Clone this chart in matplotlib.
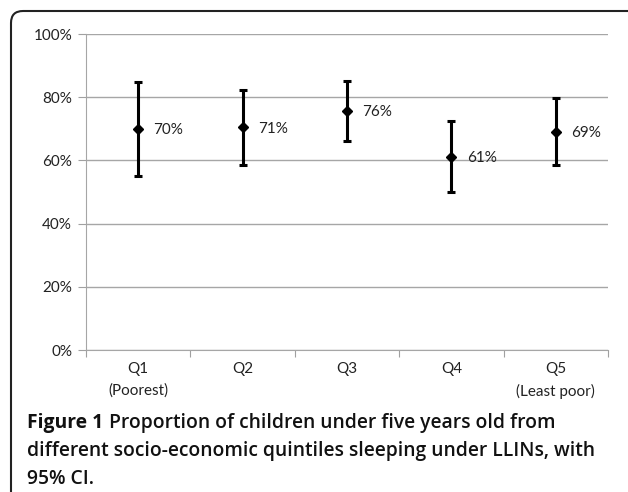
import matplotlib
matplotlib.use("Agg")
import matplotlib.pyplot as plt
from matplotlib.patches import FancyBboxPatch
from matplotlib.transforms import IdentityTransform

# data (proportions)
quintiles = ["Q1\n(Poorest)", "Q2", "Q3", "Q4", "Q5\n(Least poor)"]
estimate = [0.70, 0.705, 0.756, 0.612, 0.69]
ci_low = [0.552, 0.586, 0.661, 0.499, 0.584]
ci_high = [0.849, 0.823, 0.851, 0.725, 0.798]
labels = ["70%", "71%", "76%", "61%", "69%"]
y_ticks = [0, 0.2, 0.4, 0.6, 0.8, 1.0]
y_ticklabels = ["0%", "20%", "40%", "60%", "80%", "100%"]

W, H = 628, 492
fig = plt.figure(figsize=(W / 100, H / 100), dpi=100)
ax = fig.add_axes([86 / W, 1 - 350 / H, (608 - 86) / W, (350 - 34) / H])

lab_font = dict(family="Lato", fontsize=11, color="#222222")

x = list(range(len(quintiles)))
err_lo = [e - l for e, l in zip(estimate, ci_low)]
err_hi = [h - e for e, h in zip(estimate, ci_high)]
ax.errorbar(x, estimate, yerr=[err_lo, err_hi], fmt="D", color="black",
            ms=5.5, elinewidth=2.2, capsize=3, capthick=2.2, zorder=3)
for xi, v, lab in zip(x, estimate, labels):
    ax.annotate(lab, (xi, v), xytext=(11, -1), textcoords="offset points",
                ha="left", va="center", **lab_font)

ax.set_xlim(-0.5, len(quintiles) - 0.5)
ax.set_ylim(0, 1)
ax.set_yticks(y_ticks)
ax.set_yticklabels(y_ticklabels, **lab_font)
ax.set_xticks([i - 0.5 for i in range(len(quintiles) + 1)])
ax.set_xticklabels([])
ax.set_xticks(x, minor=True)
ax.set_xticklabels(quintiles, minor=True, linespacing=1.65, **lab_font)
ax.tick_params(axis="x", which="minor", length=0, pad=9)
ax.tick_params(axis="x", which="major", length=5, color="#a0a0a0", direction="out")
ax.tick_params(axis="y", length=6, color="#a0a0a0", pad=4)
ax.yaxis.grid(True, color="#a6a6a6", lw=1)
ax.set_axisbelow(True)
for s in ["top", "right"]:
    ax.spines[s].set_visible(False)
for s in ["left", "bottom"]:
    ax.spines[s].set_color("#a6a6a6")

# caption
cap_font = dict(fontsize=13.9, family="Open Sans", va="center", color="#111111")
cap_x = 27 / W
fig_lbl = fig.text(cap_x, 1 - 423 / H, "Figure 1", fontweight="bold", **cap_font)
ax.annotate("Proportion of children under five years old from",
            xy=(1, 0.5), xycoords=fig_lbl, xytext=(4, 0), textcoords="offset points",
            fontweight="semibold", annotation_clip=False, **cap_font)
fig.text(cap_x, 1 - 451 / H, "different socio-economic quintiles sleeping under LLINs, with",
         fontweight="semibold", **cap_font)
fig.text(cap_x, 1 - 479 / H, "95% CI.", fontweight="semibold", **cap_font)

# rounded frame around the figure panel
frame = FancyBboxPatch((11, -40), W + 20, H - 11 + 40,
                       boxstyle="round,pad=0,rounding_size=12",
                       transform=IdentityTransform(), fill=False,
                       edgecolor="#222222", lw=1.5)
fig.patches.append(frame)

fig.savefig("out.png", dpi=100)
